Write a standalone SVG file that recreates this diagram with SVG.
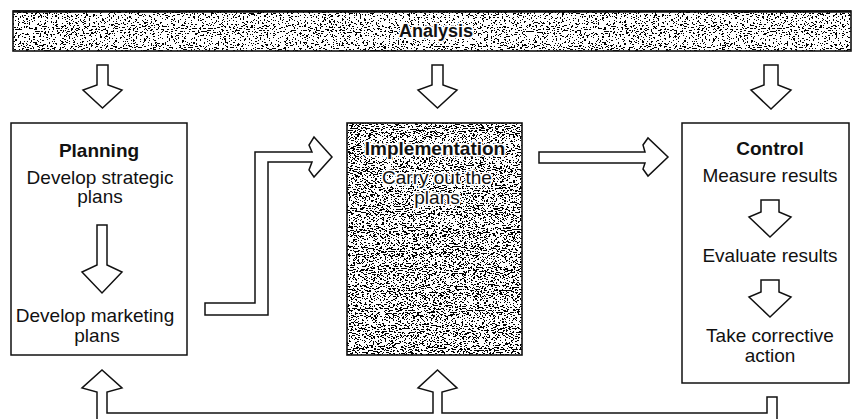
<svg xmlns="http://www.w3.org/2000/svg" width="852" height="419" viewBox="0 0 852 419">
  <defs>
    <!-- speckled halftone fill for shaded panels -->
    <filter id="grain" x="0" y="0" width="100%" height="100%" color-interpolation-filters="sRGB">
      <feTurbulence type="fractalNoise" baseFrequency="0.45 0.95" numOctaves="2" seed="7" result="noise"/>
      <feColorMatrix in="noise" type="matrix" values="0 0 0 0 0  0 0 0 0 0  0 0 0 0 0  1.6 0 0 0 -0.3" result="a"/>
      <feComponentTransfer in="a" result="dots">
        <feFuncA type="discrete" tableValues="0 0 0 1 1"/>
      </feComponentTransfer>
      <feFlood flood-color="#ffffff" result="white"/>
      <feMerge result="m">
        <feMergeNode in="white"/>
        <feMergeNode in="dots"/>
      </feMerge>
      <feComposite in="m" in2="SourceGraphic" operator="in"/>
    </filter>
    <filter id="grainLight" x="0" y="0" width="100%" height="100%" color-interpolation-filters="sRGB">
      <feTurbulence type="fractalNoise" baseFrequency="0.45 0.95" numOctaves="2" seed="3" result="noise"/>
      <feColorMatrix in="noise" type="matrix" values="0 0 0 0 0  0 0 0 0 0  0 0 0 0 0  1.6 0 0 0 -0.3" result="a"/>
      <feComponentTransfer in="a" result="dots">
        <feFuncA type="discrete" tableValues="0 0 0 0 1 1"/>
      </feComponentTransfer>
      <feFlood flood-color="#ffffff" result="white"/>
      <feMerge result="m">
        <feMergeNode in="white"/>
        <feMergeNode in="dots"/>
      </feMerge>
      <feComposite in="m" in2="SourceGraphic" operator="in"/>
    </filter>
    <style>
      .box { fill: #ffffff; stroke: #111; stroke-width: 1.5; }
      .shade { fill: #ffffff; filter: url(#grain); }
      .shadeLight { fill: #ffffff; filter: url(#grainLight); }
      .edge { fill: none; stroke: #111; stroke-width: 1.6; }
      .arrow { fill: #ffffff; stroke: #111; stroke-width: 1.5; stroke-linejoin: miter; }
      .t { font-family: "Liberation Sans", Arial, Helvetica, sans-serif; font-size: 19px; fill: #111; text-anchor: middle; }
      .b { font-weight: bold; }
      .halo { paint-order: stroke; stroke: #ffffff; stroke-width: 3.5px; stroke-linejoin: round; }
    </style>
  </defs>

  <rect width="852" height="419" fill="#ffffff"/>

  <!-- Analysis bar -->
  <g id="analysis">
    <rect class="shadeLight" x="13" y="11" width="838" height="40"/>
    <rect class="edge" x="13" y="11" width="838" height="40"/>
    <line x1="13" y1="11.5" x2="851" y2="11.5" stroke="#111" stroke-width="2.5"/>
    <text class="t b halo" x="436" y="37" style="font-size:18px">Analysis</text>
  </g>

  <!-- Planning -->
  <g id="planning">
    <rect class="box" x="11" y="123" width="176" height="232"/>
    <text class="t b" x="99" y="157">Planning</text>
    <text class="t" x="100" y="184">Develop strategic</text>
    <text class="t" x="100" y="203">plans</text>
    <path class="arrow" d="M97,225 H107 V265 L122,272 L102,293 L82,272 L97,265 Z"/>
    <text class="t" x="95" y="322">Develop marketing</text>
    <text class="t" x="97" y="342">plans</text>
  </g>

  <!-- Implementation -->
  <g id="implementation">
    <rect class="shade" x="347" y="123" width="175" height="232"/>
    <rect class="edge" x="347" y="123" width="175" height="232"/>
    <text class="t b halo" x="435" y="155">Implementation</text>
    <text class="t halo" x="437" y="184">Carry out the</text>
    <text class="t halo" x="437" y="204">plans</text>
  </g>

  <!-- Control -->
  <g id="control">
    <rect class="box" x="682" y="123" width="167" height="260"/>
    <text class="t b" x="770" y="155">Control</text>
    <text class="t" x="770" y="182">Measure results</text>
    <path class="arrow" d="M761,200 H779 V212 L791,217 L770,237 L749,217 L761,212 Z"/>
    <text class="t" x="770" y="262">Evaluate results</text>
    <path class="arrow" d="M761,280 H779 V292 L791,297 L770,317 L749,297 L761,292 Z"/>
    <text class="t" x="770" y="342">Take corrective</text>
    <text class="t" x="770" y="362">action</text>
  </g>

  <!-- connectors -->
  <g id="connectors">
    <!-- from Analysis down to each stage -->
    <path class="arrow" d="M97,65 H108 V85 L122,90 L102.5,108 L83,90 L97,85 Z"/>
    <path class="arrow" d="M432,65 H443 V85 L457,90 L437.5,108 L418,90 L432,85 Z"/>
    <path class="arrow" d="M764,65 H778 V85 L791,90 L771,109 L751,90 L764,85 Z"/>
    <!-- Planning to Implementation -->
    <path class="arrow" d="M205,303 H255 V152 H312 L309,145 L314,137 L332,157 L314,177 L309,170 L312,162 H268 V315 H205 Z"/>
    <!-- Implementation to Control -->
    <path class="arrow" d="M539,152 H645 L643,145 L648,138 L668,157 L648,176 L643,169 L645,163 H539 Z"/>
    <!-- feedback from Control back to Planning and Implementation -->
    <path class="arrow" d="M97,425 V392 L82,388 L102,370 L122,388 L107,392 V413 H433 V392 L418,388 L437.5,370 L457,388 L442,392 V413 H767 V397 H777 V425 Z"/>
  </g>
</svg>
